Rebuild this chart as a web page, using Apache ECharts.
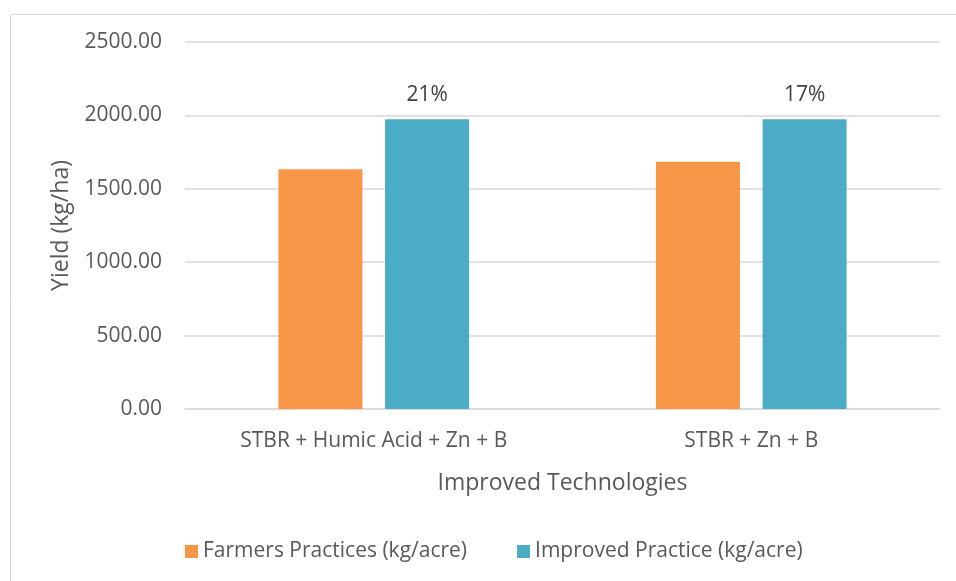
<!DOCTYPE html>
<html>
<head>
<meta charset="utf-8">
<script src="https://cdn.jsdelivr.net/npm/echarts@6/dist/echarts.min.js"></script>
<style>
  html, body { margin: 0; padding: 0; background: #fff; }
  #main { width: 956px; height: 581px; }
</style>
</head>
<body>
<div id="main"></div>
<script>
var categories = ['STBR + Humic Acid + Zn + B', 'STBR + Zn + B'];
var farmers = [1633, 1685];
var improved = [1973, 1973];
var increaseLabels = ['21%', '17%'];
var seriesNames = ['Farmers Practices (kg/acre)', 'Improved Practice (kg/acre)'];

var font = '"Open Sans", sans-serif';
var txt = '#595959';

var myChart = echarts.init(document.getElementById('main'));

var option = {
  backgroundColor: '#fff',
  textStyle: { fontFamily: font, color: txt },
  graphic: [{
    type: 'rect',
    shape: { x: 10.5, y: 14.5, width: 1200, height: 1000 },
    style: { fill: 'none', stroke: '#d9d9d9', lineWidth: 1 },
    silent: true
  }],
  legend: {
    data: seriesNames,
    left: 180,
    top: 536,
    itemWidth: 13,
    itemHeight: 13,
    itemGap: 50,
    icon: 'rect',
    textStyle: { fontFamily: font, fontSize: 21, color: txt }
  },
  grid: { left: 185, right: 16, top: 42, bottom: 172 },
  xAxis: {
    type: 'category',
    data: categories,
    name: 'Improved Technologies',
    nameLocation: 'middle',
    nameGap: 63,
    nameTextStyle: { fontFamily: font, fontSize: 23, color: txt },
    axisLine: { lineStyle: { color: '#d9d9d9', width: 1.5 } },
    axisTick: { show: false },
    axisLabel: { fontFamily: font, fontSize: 21, color: txt, margin: 22 }
  },
  yAxis: {
    type: 'value',
    min: 0,
    max: 2500,
    interval: 500,
    name: 'Yield (kg/ha)',
    nameLocation: 'middle',
    nameGap: 112,
    nameTextStyle: { fontFamily: font, fontSize: 23, color: txt },
    axisLine: { show: false },
    axisTick: { show: false },
    splitLine: { lineStyle: { color: '#d9d9d9', width: 1.5 } },
    axisLabel: {
      fontFamily: font, fontSize: 21, color: txt, margin: 23,
      formatter: function (v) { return v.toFixed(2); }
    }
  },
  series: [{
    name: seriesNames[0],
    type: 'bar',
    data: farmers,
    barWidth: 84,
    barGap: '27%',
    itemStyle: { color: '#F79646' }
  }, {
    name: seriesNames[1],
    type: 'bar',
    data: improved,
    barWidth: 84,
    itemStyle: { color: '#4BACC6' },
    label: {
      show: true,
      position: 'top',
      distance: 14,
      fontFamily: font,
      fontSize: 21,
      color: '#404040',
      formatter: function (p) { return increaseLabels[p.dataIndex]; }
    }
  }]
};

myChart.setOption(option);
</script>
</body>
</html>
